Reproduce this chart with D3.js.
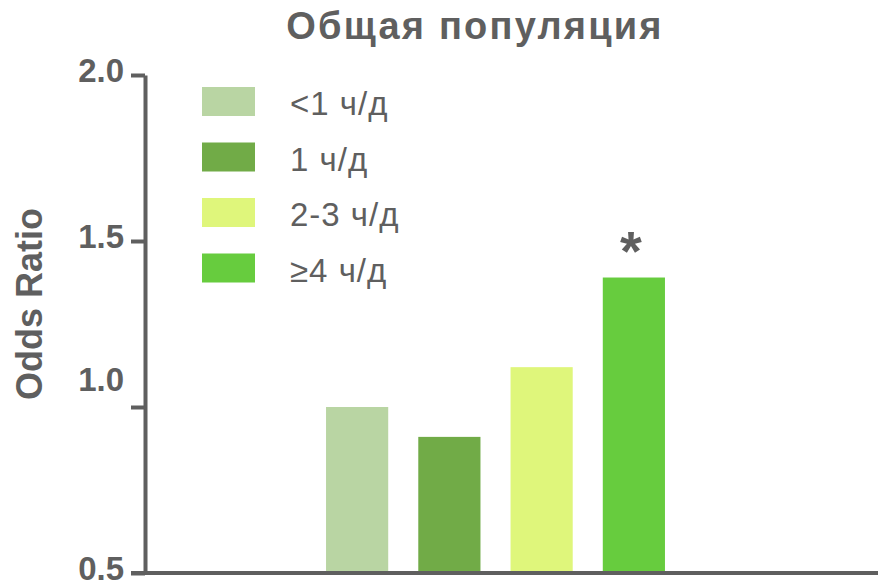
<!DOCTYPE html>
<html>
<head>
<meta charset="utf-8">
<script src="https://cdn.jsdelivr.net/npm/d3@7"></script>
<style>
  body { margin: 0; background: #fff; }
  text { font-family: "Liberation Sans", Arial, sans-serif; fill: #5f5f5f; }
</style>
</head>
<body>
<script>
// data
const categories = ["<1 ч/д", "1 ч/д", "2-3 ч/д", "≥4 ч/д"]
const oddsRatio = [1.0, 0.91, 1.12, 1.39]
const marks = ["", "", "", "*"]
const colors = ["#b9d5a3", "#71ab47", "#dff67b", "#67cc3e"]
const yTicks = [0.5, 1.0, 1.5, 2.0]

const width = 878
const height = 586
const grey = "#5f5f5f"

const svg = d3.select("body").append("svg")
    .attr("width", width)
    .attr("height", height)

const y = d3.scaleLinear().domain([0.5, 2.0]).range([573, 75])
const x = d3.scaleBand().domain(categories)
    .range([311, 680])
    .paddingInner(0.326)
    .paddingOuter(0.163)

// title
svg.append("text")
    .attr("x", 475).attr("y", 39)
    .attr("text-anchor", "middle")
    .style("font-size", "38px")
    .style("font-weight", "bold")
    .style("letter-spacing", "2.2px")
    .text("Общая популяция")

// bars
svg.append("g").selectAll("rect")
    .data(categories)
    .join("rect")
    .attr("x", d => x(d))
    .attr("width", x.bandwidth())
    .attr("y", (d, i) => y(oddsRatio[i]))
    .attr("height", (d, i) => y(0.5) - y(oddsRatio[i]))
    .attr("fill", (d, i) => colors[i])

// significance marks
svg.append("g").selectAll("text")
    .data(categories)
    .join("text")
    .attr("x", d => x(d) + x.bandwidth() / 2 - 3)
    .attr("y", (d, i) => y(oddsRatio[i]) - 8)
    .attr("text-anchor", "middle")
    .style("font-size", "56px")
    .style("font-weight", "bold")
    .text((d, i) => marks[i])

// y axis
const yAxis = svg.append("g")
    .attr("transform", "translate(145,0)")
    .call(d3.axisLeft(y).tickValues(yTicks).tickSize(14).tickSizeOuter(0).tickPadding(7)
        .tickFormat(d3.format(".1f")))
yAxis.select(".domain").attr("stroke", grey).attr("stroke-width", 4)
yAxis.selectAll(".tick line").attr("stroke", grey).attr("stroke-width", 4)
yAxis.selectAll(".tick text")
    .style("font-size", "33px")
    .style("font-weight", "bold")
    .style("font-family", "'Liberation Sans', Arial, sans-serif")
    .attr("fill", grey)
    .attr("dy", "0.2em")
// the 1.0 label sits higher than its tick in the original
yAxis.selectAll(".tick text").filter(d => d === 1.0).attr("dy", "-0.5em")

// x axis baseline
svg.append("line")
    .attr("x1", 131).attr("x2", width)
    .attr("y1", y(0.5)).attr("y2", y(0.5))
    .attr("stroke", grey).attr("stroke-width", 4)

// y label
svg.append("text")
    .attr("transform", "translate(42,304) rotate(-90)")
    .attr("text-anchor", "middle")
    .style("font-size", "36px")
    .style("font-weight", "bold")
    .text("Odds Ratio")

// legend
const legend = svg.append("g").selectAll("g")
    .data(categories)
    .join("g")
    .attr("transform", (d, i) => `translate(202,${87 + i * 55.5})`)
legend.append("rect")
    .attr("width", 53).attr("height", 29)
    .attr("fill", (d, i) => colors[i])
legend.append("text")
    .attr("x", 88).attr("y", 28)
    .style("font-size", "33px")
    .style("letter-spacing", "1px")
    .text(d => d)
</script>
</body>
</html>
